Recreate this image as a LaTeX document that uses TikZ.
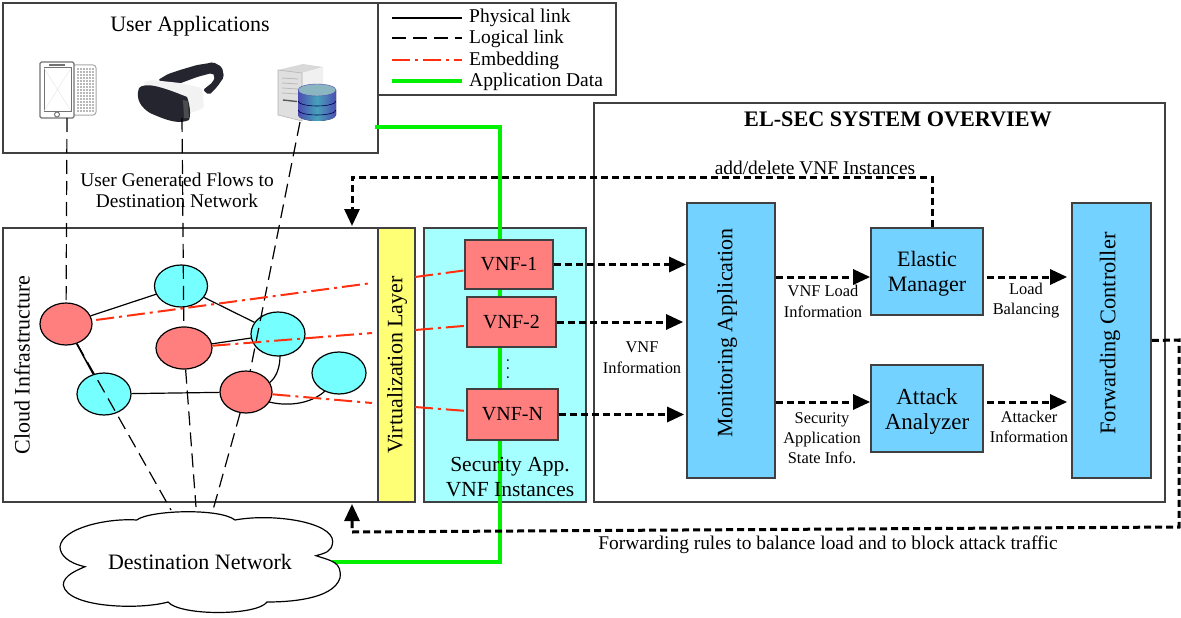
\documentclass[tikz,border=0pt]{standalone}
\usepackage{fontspec}
\setmainfont{Liberation Serif}
\usetikzlibrary{arrows.meta,shapes.geometric}

\definecolor{boxgray}{HTML}{404040}
\definecolor{nodered}{HTML}{FF7F7F}
\definecolor{nodecyan}{HTML}{75FFFF}
\definecolor{paleCyan}{HTML}{A6FFFF}
\definecolor{layeryellow}{HTML}{FFFF75}
\definecolor{blockblue}{HTML}{73D2FF}
\definecolor{embedred}{HTML}{FF3010}
\definecolor{datagreen}{HTML}{00F000}
\definecolor{headsetdark}{HTML}{25252F}

\newcommand{\fs}[1]{\fontsize{#1}{#1}\selectfont}

\tikzset{
  panel/.style={draw=boxgray, line width=1.7pt, inner sep=0pt},
  vnfbox/.style={panel, fill=nodered, font=\fs{20}},
  block/.style={panel, fill=blockblue},
  blocktxt/.style={align=center, inner sep=0pt, font=\fs{22}},
  host/.style={ellipse, draw=black, line width=1.2pt, inner sep=0pt, minimum height=42pt},
  redhost/.style={host, fill=nodered},
  cyanhost/.style={host, fill=nodecyan},
  physical/.style={line width=1.2pt, black},
  logical/.style={line width=1.2pt, black, dash pattern=on 14pt off 7pt},
  embedding/.style={line width=2pt, embedred, dash pattern=on 18pt off 5pt on 3pt off 5pt},
  appdata/.style={line width=4pt, datagreen},
  control/.style={line width=3pt, black, dash pattern=on 7pt off 4pt,
    -{Triangle[length=17pt,width=15pt]}},
  legtxt/.style={anchor=west, inner sep=0pt, font=\fs{19.5}},
  note/.style={font=\fs{16.4}, align=center, inner sep=0pt, text height=12pt, text depth=3pt},
}

\begin{document}
\begin{tikzpicture}[x=1pt,y=-1pt]
  \useasboundingbox (0,0) rectangle (1181,618);

  % outer panels
  \node[panel, fill=white, minimum width=375pt, minimum height=150pt] (userbox) at (190.5,78) {};
  \node[panel, fill=white, minimum width=238pt, minimum height=92pt] (legendbox) at (497,49) {};
  \node[panel, fill=white, minimum width=571pt, minimum height=399pt] (systembox) at (879.5,302.5) {};
  \node[panel, fill=white, minimum width=375pt, minimum height=274pt] (cloudbox) at (190.5,365) {};
  \node[panel, fill=layeryellow, minimum width=37pt, minimum height=274pt] (virtlayer) at (396.5,365) {};
  \node[panel, fill=paleCyan, minimum width=162pt, minimum height=274pt] (secbox) at (505,365) {};

  \node[font=\fs{22}] (usertitle) at (190,26) {User Applications};
  \node[font=\bfseries\fs{22.2}] (systitle) at (898,119) {EL-SEC SYSTEM OVERVIEW};
  \node[rotate=90, font=\fs{22}] (cloudtitle) at (22,365) {Cloud Infrastructure};
  \node[rotate=90, font=\fs{22}] (virttitle) at (397,365) {Virtualization Layer};

  % legend
  \coordinate (lega) at (392,18); \coordinate (legb) at (462,18);
  \coordinate (legc) at (392,38); \coordinate (legd) at (462,38);
  \coordinate (lege) at (392,60); \coordinate (legf) at (462,60);
  \coordinate (legg) at (392,81); \coordinate (legh) at (462,81);
  \draw[physical] (lega) -- (legb);
  \draw[logical] (legc) -- (legd);
  \draw[embedding, line width=1.3pt] (lege) -- (legf);
  \draw[appdata] (legg) -- (legh);
  \node[legtxt] (legtxta) at (469,18) {Physical link};
  \node[legtxt] (legtxtb) at (469,39) {Logical link};
  \node[legtxt] (legtxtc) at (469,61) {Embedding};
  \node[legtxt] (legtxtd) at (469,82) {Application Data};

  % phone
  \filldraw[draw=gray!70, fill=white, line width=1pt, rounded corners=3pt] (72,65) rectangle (96,115);
  \foreach \kx in {78,81,84,87,90,93} {
    \foreach \ky in {69,72,...,111} {
      \fill[gray!55] (\kx-1,\ky-1) rectangle (\kx+1,\ky+1);
    }
  }
  \filldraw[draw=gray!90!black, fill=white, line width=1.1pt, rounded corners=1.5pt] (40,62) rectangle (74,118);
  \draw[gray!90!black, line width=1pt] (44,68) rectangle (71,111);
  \draw[gray!90!black, line width=1.2pt] (49,65) -- (65,65);
  \draw[gray!90!black, line width=1pt] (57,114.5) circle (2.5);
  \draw[gray!20] (44,68) -- (71,111) (71,68) -- (44,111);

  % headset
  \fill[headsetdark, rounded corners=2pt] (158,80) -- (168,74) -- (180,70) -- (197,65) -- (210,63) -- (213,62)
    -- (222,67) -- (224,77) -- (217,87) -- (209,95) -- (203,90) -- (213,82) -- (215,76) -- (212,73)
    -- (197,77) -- (173,86) -- cycle;
  \fill[gray!10, rounded corners=2pt] (143,82) -- (152,80) -- (180,83) -- (202,88) -- (204,108) -- (190,113) -- (150,90) -- cycle;
  \fill[headsetdark] (139,88) .. controls (145,82) and (160,86) .. (187,97)
    .. controls (190,105) and (191,115) .. (189,120) .. controls (180,124) and (170,122) .. (150,113)
    .. controls (142,108) and (135,100) .. (139,88) -- cycle;
  \fill[gray!60!black] (183,100) -- (188,101) -- (189,118) -- (184,118) -- cycle;

  % server
  \fill[gray!30] (278,70) -- (303,64) -- (323,67) -- (302,73) -- cycle;
  \fill[gray!12] (302,73) -- (323,67) -- (323,90) -- (302,100) -- cycle;
  \filldraw[draw=gray!60, fill=gray!25, line width=.6pt] (278,70) -- (302,73) -- (302,121) -- (278,115) -- cycle;
  \foreach \vy in {78,83,88,93} {
    \draw[gray!55, line width=.8pt] (282,\vy) -- (298,\vy+1);
  }
  \draw[gray!70!black, line width=1.4pt] (283,100) -- (297,101.5);
  \fill[left color=blue!40!gray, right color=blue!40!gray, middle color=blue!20!cyan!45!gray]
    (298,90) -- (298,115) arc[start angle=180, end angle=360, x radius=19, y radius=-6] -- (336,90)
    arc[start angle=0, end angle=-180, x radius=19, y radius=-6] -- cycle;
  \foreach \dy in {101,110} {
    \draw[blue!30!black, line width=.6pt] (298,\dy) arc[start angle=180, end angle=360, x radius=19, y radius=-5];
  }
  \draw[blue!40!gray, fill=blue!20!cyan!30!gray!70] (317,90) ellipse (19 and 6);

  % hosts
  \node[redhost, minimum width=52pt] (hosta) at (66,324) {};
  \node[cyanhost, minimum width=53pt] (hostb) at (181,286) {};
  \node[redhost, minimum width=56pt] (hostc) at (184,348) {};
  \node[cyanhost, minimum width=54pt, minimum height=44pt] (hostd) at (278,334) {};
  \node[cyanhost, minimum width=54pt] (hoste) at (104,394) {};
  \node[redhost, minimum width=52pt] (hostf) at (246,392) {};
  \node[cyanhost, minimum width=54pt] (hostg) at (339,373) {};

  \draw[physical] (hosta) -- (hostb);
  \draw[physical] (hostb) -- (hostd);
  \draw[physical] (hostc) -- (hostd);
  \draw[physical, line width=1.5pt] (hosta) -- (hoste);
  \draw[physical] (hoste) -- (hostf);
  \draw[physical] (280,356) .. controls (280,368) and (276,378) .. (269,383);
  \draw[physical] (269,402) .. controls (290,407) and (312,403) .. (325,391);

  % green data path
  \coordinate (greena) at (375,127); \coordinate (greenb) at (500,127);
  \coordinate (greenc) at (500,562); \coordinate (greend) at (332,562);
  \draw[appdata, line join=miter] (greena) -- (greenb) -- (greenc) -- (greend);

  % vnf instances
  \node[vnfbox, minimum width=88pt, minimum height=49pt] (vnfa) at (509,264.5) {VNF-1};
  \node[vnfbox, minimum width=89pt, minimum height=50pt] (vnfb) at (511.5,322) {VNF-2};
  \node[vnfbox, minimum width=91pt, minimum height=51pt] (vnfn) at (512.5,414.5) {VNF-N};
  \node[rotate=90, inner sep=0pt, font=\fs{15}] (vdots) at (508,369) {. . .};
  \node[align=center, inner sep=0pt, font=\fs{21.5}] (sectitle) at (510,477) {Security App.\\[3pt]VNF Instances};

  % cloud
  \draw[line width=1.2pt, fill=white] (136.7,520) .. controls (150,510) and (220,508) .. (235,520)
    .. controls (273,513) and (333,522) .. (332.7,541.7) .. controls (332,552) and (325,553) .. (316,555.7)
    .. controls (332,561) and (342,562) .. (340,578) .. controls (333,600) and (287,602) .. (267,602)
    .. controls (257,616) and (180,616) .. (168,602) .. controls (140,610) and (67,608) .. (63.3,585)
    .. controls (63,575) and (80,569) .. (85,566.7) .. controls (68,563) and (60,555) .. (60,546.7)
    .. controls (62,528) and (107,518) .. (136.7,520) -- cycle;
  \node[font=\fs{22}] (destnet) at (200,562) {Destination Network};
  \coordinate (clouda) at (171,510);
  \coordinate (cloudb) at (196,507);
  \coordinate (cloudc) at (213,510);

  % logical links
  \coordinate (phone) at (67,118);
  \coordinate (headset) at (182,118);
  \coordinate (serverdb) at (300,122);
  \draw[logical] (phone) -- (hosta);
  \draw[logical] (headset) -- (hostc);
  \draw[logical] (serverdb) -- (hostf);
  \draw[logical] (hosta) -- (clouda);
  \draw[logical] (hostc) -- (cloudb);
  \draw[logical] (hostf) -- (cloudc);
  \node[align=center, inner sep=0pt, font=\fs{19.4}] (flowtxt) at (177,190.5) {User Generated Flows to\\[2pt]Destination Network};

  % embedding
  \coordinate (virta) at (372,283); \coordinate (virtb) at (415,277);
  \coordinate (virtc) at (372,333); \coordinate (virtd) at (415,330);
  \coordinate (virte) at (372,403); \coordinate (virtf) at (415,407);
  \draw[embedding, shorten <=4pt] (hosta) -- (virta);
  \draw[embedding] (virtb) -- (vnfa);
  \draw[embedding] (hostc) -- (virtc);
  \draw[embedding] (virtd) -- (vnfb);
  \draw[embedding] (hostf) -- (virte);
  \draw[embedding] (virtf) -- (vnfn);

  % system blocks
  \node[block, minimum width=88pt, minimum height=275pt] (monitor) at (731,340.5) {};
  \node[block, minimum width=112pt, minimum height=87pt] (elastic) at (927,271.5) {};
  \node[block, minimum width=112pt, minimum height=87pt] (attack) at (927,408.5) {};
  \node[block, minimum width=79pt, minimum height=275pt] (forward) at (1111.5,340.5) {};
  \node[blocktxt, rotate=90] (monitortxt) at (727,333) {Monitoring Application};
  \node[blocktxt] (elastictxt) at (927,273.5) {Elastic\\[3pt]Manager};
  \node[blocktxt, font=\fs{23}] (attacktxt) at (927,411) {Attack\\[2pt]Analyzer};
  \node[blocktxt, rotate=90, font=\fs{22.4}] (forwardtxt) at (1110,333.5) {Forwarding Controller};

  % control flows
  \draw[control] (vnfa.east) -- (monitor.west |- vnfa.east);
  \draw[control, shorten >=3pt] (vnfb.east) -- (monitor.west |- vnfb.east);
  \draw[control, shorten >=2pt] (vnfn.east) -- (monitor.west |- vnfn.east);
  \draw[control] (monitor.east |- 0,277) -- (elastic.west |- 0,277);
  \draw[control] (monitor.east |- 0,402) -- (attack.west |- 0,402);
  \draw[control, shorten <=3pt, shorten >=4pt] (elastic.east |- 0,277) -- (forward.west |- 0,277);
  \draw[control, shorten <=3pt, shorten >=4pt] (attack.east |- 0,402) -- (forward.west |- 0,402);

  \coordinate (addturna) at (932,177); \coordinate (addturnb) at (352,177);
  \draw[control] (elastic.north -| addturna) -- (addturna) -- (addturnb) -- (352,226);
  \coordinate (fwdturna) at (1179,340); \coordinate (fwdturnb) at (1179,527); \coordinate (fwdturnc) at (352,532);
  \draw[control] (forward.east) -- (fwdturna) -- (fwdturnb) -- (fwdturnc) -- (352,504);

  % flow labels
  \node[font=\fs{19.4}] (addtxt) at (815,168) {add/delete VNF Instances};
  \node[font=\fs{19.4}] (fwdtxt) at (828,544.5) {Forwarding rules to balance load and to block attack traffic};
  \node[note] (vnfinfo) at (642,347.5) {VNF};
  \node[note] (vnfinfob) at (642,368.5) {Information};
  \node[note] (loadinfo) at (823,292) {VNF Load};
  \node[note] (loadinfob) at (823,313) {Information};
  \node[note] (balance) at (1026,290) {Load};
  \node[note] (balanceb) at (1026,310) {Balancing};
  \node[note] (stateinfo) at (822,419) {Security};
  \node[note] (stateinfob) at (822,439) {Application};
  \node[note] (stateinfoc) at (822,459) {State Info.};
  \node[note] (attackinfo) at (1029,418) {Attacker};
  \node[note] (attackinfob) at (1029,438) {Information};
\end{tikzpicture}
\end{document}
